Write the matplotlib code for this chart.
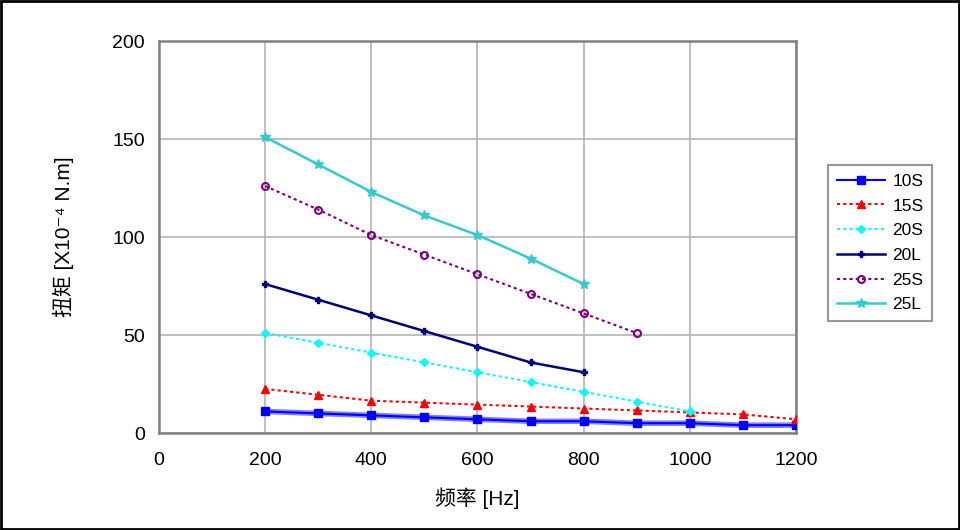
import matplotlib
matplotlib.use("Agg")
import matplotlib.pyplot as plt
from matplotlib.patches import Rectangle

plt.rcParams['font.family'] = ['Liberation Sans', 'Noto Sans CJK SC', 'DejaVu Sans']

freq = [200, 300, 400, 500, 600, 700, 800, 900, 1000, 1100, 1200]

t_10s = [11, 10, 9, 8, 7, 6, 6, 5, 5, 4, 4]
t_15s = [22.5, 19.5, 16.5, 15.5, 14.5, 13.5, 12.5, 11.5, 10.5, 9.5, 7]
t_20s = [51, 46, 41, 36, 31, 26, 21, 16, 11]
t_20l = [76, 68, 60, 52, 44, 36, 31]
t_25s = [126, 114, 101, 91, 81, 71, 61, 51]
t_25l = [151, 137, 123, 111, 101, 89, 76]

fig = plt.figure(figsize=(9.6, 5.3), dpi=100)
ax = fig.add_axes([0.1656, 0.183, 0.6635, 0.7396])

dot = (0, (1.5, 1.5))
ax.plot(freq[:len(t_10s)], t_10s, color='#8080ff', lw=4, zorder=2)
ax.plot(freq[:len(t_10s)], t_10s, color='#0000ff', lw=1.5, marker='s', ms=6,
        label='10S', zorder=3)
ax.plot(freq[:len(t_15s)], t_15s, color='#ff0000', lw=1.5, ls=dot, marker='^', ms=6,
        label='15S', zorder=3)
ax.plot(freq[:len(t_20s)], t_20s, color='#00ffff', lw=1.5, ls=dot, marker='D', ms=4,
        label='20S', zorder=3)
ax.plot(freq[:len(t_20l)], t_20l, color='#000080', lw=1.8, marker='P', ms=5,
        label='20L', zorder=3)
ax.plot(freq[:len(t_25s)], t_25s, color='#800080', lw=1.5, ls=dot, marker='o', ms=5,
        mfc='none', mew=1.5, label='25S', zorder=3)
ax.plot(freq[:len(t_25l)], t_25l, color='#33cccc', lw=1.8, marker='*', ms=7,
        label='25L', zorder=3)

ax.set_xlim(0, 1200)
ax.set_ylim(0, 200)
ax.set_xticks(range(0, 1201, 200))
ax.set_yticks(range(0, 201, 50))
ax.grid(True, color='#b4b4b4', lw=1.2)
ax.set_axisbelow(True)
for s in ax.spines.values():
    s.set_color('#808080')
    s.set_linewidth(1.8)
ax.tick_params(length=0, labelsize=14)
ax.tick_params(axis='x', pad=14)
ax.tick_params(axis='y', pad=10)

ax.set_xlabel('频率 [Hz]', fontsize=15, labelpad=13)
ax.set_ylabel('扭矩 [X10⁻⁴ N.m]', fontsize=15, labelpad=28)

leg = ax.legend(loc='upper left', bbox_to_anchor=(828 / 960, 1 - 165 / 530),
                bbox_transform=fig.transFigure, fontsize=12.5, frameon=True,
                fancybox=False, edgecolor='#808080', handlelength=2.8,
                handletextpad=0.4, labelspacing=0.55, borderpad=0.5,
                borderaxespad=0)
leg.get_frame().set_linewidth(1.5)

fig.patches.append(Rectangle((0.001, 0.002), 0.998, 0.996, transform=fig.transFigure,
                             fill=False, edgecolor='black', lw=2))

fig.savefig('out.png', dpi=100)
